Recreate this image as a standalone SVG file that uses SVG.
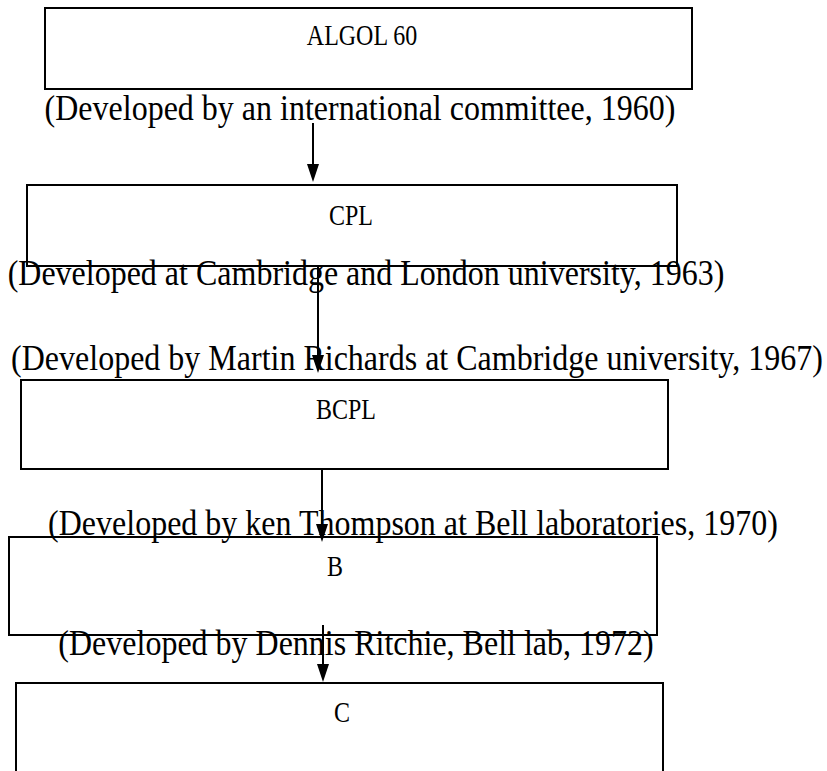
<svg xmlns="http://www.w3.org/2000/svg" width="827" height="771" viewBox="0 0 827 771">
<style>
.box{fill:none;stroke:#000;stroke-width:2}
.t{font-family:"Liberation Serif","Times New Roman",serif;font-size:24px;fill:#000;text-anchor:middle}
.lbl{font-family:"Liberation Serif","Times New Roman",serif;font-size:32px;fill:#000;text-anchor:middle}
.shaft{stroke:#000;stroke-width:2;fill:none}
.head{fill:#000}
</style>
<rect width="827" height="771" fill="#fff"/>
<g id="algol60">
<rect class="box" x="45" y="8" width="647" height="81"/>
<text class="t" transform="translate(362,45) scale(1,1.2)">ALGOL 60</text>
<text class="lbl" transform="translate(360,120) scale(1,1.12)">(Developed by an international committee, 1960)</text>
</g>
<g id="cpl">
<rect class="box" x="27" y="185" width="650" height="81"/>
<text class="t" transform="translate(351,225) scale(1,1.2)">CPL</text>
<text class="lbl" transform="translate(366,285) scale(1,1.12)">(Developed at Cambridge and London university, 1963)</text>
</g>
<g id="bcpl">
<text class="lbl" transform="translate(417,370) scale(1,1.12)">(Developed by Martin Richards at Cambridge university, 1967)</text>
<rect class="box" x="21" y="380" width="647" height="89"/>
<text class="t" transform="translate(346,419) scale(1,1.2)">BCPL</text>
</g>
<g id="b">
<text class="lbl" transform="translate(413,535) scale(1,1.12)">(Developed by ken Thompson at Bell laboratories, 1970)</text>
<rect class="box" x="9" y="537" width="648" height="98"/>
<text class="t" transform="translate(335,576) scale(1,1.2)">B</text>
</g>
<g id="c">
<text class="lbl" transform="translate(356,655) scale(1,1.12)">(Developed by Dennis Ritchie, Bell lab, 1972)</text>
<rect class="box" x="16" y="683" width="647" height="100"/>
<text class="t" transform="translate(342,722) scale(1,1.2)">C</text>
</g>
<g id="connectors">
<line class="shaft" x1="313" y1="123" x2="313" y2="166"/>
<path class="head" d="M307,164 L319,164 L313,182 Z"/>
<line class="shaft" x1="318" y1="265" x2="318" y2="357"/>
<path class="head" d="M312,355 L324,355 L318,373 Z"/>
<line class="shaft" x1="322" y1="469" x2="322" y2="526"/>
<path class="head" d="M316,524 L328,524 L322,542 Z"/>
<line class="shaft" x1="323" y1="625" x2="323" y2="666"/>
<path class="head" d="M317,664 L329,664 L323,682 Z"/>
</g>
</svg>
